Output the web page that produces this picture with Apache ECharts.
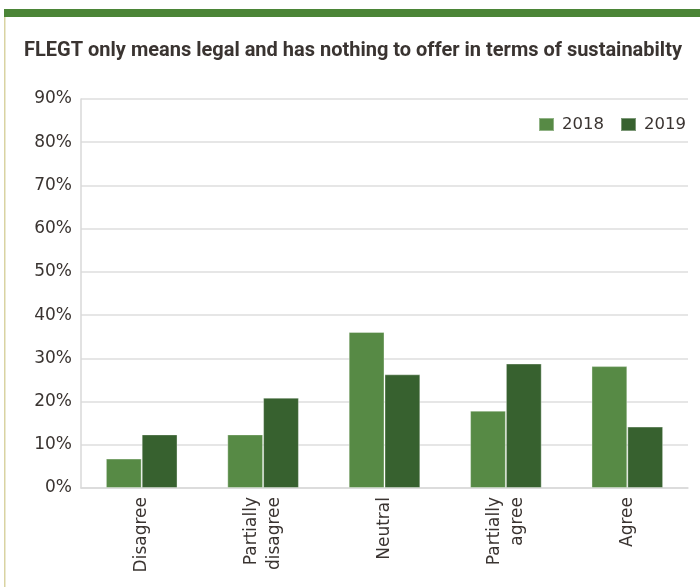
<!DOCTYPE html>
<html>
<head>
<meta charset="utf-8">
<style>html,body{margin:0;padding:0;background:#fff;}#c{width:700px;height:587px;}</style>
<script src="https://cdn.jsdelivr.net/npm/echarts@6/dist/echarts.min.js"></script>
</head>
<body>
<div id="c"></div>
<script>
var categories = ['Disagree', 'Partially\ndisagree', 'Neutral', 'Partially\nagree', 'Agree'];
var values2018 = [6.8, 12.4, 36.1, 17.9, 28.2];
var values2019 = [12.4, 20.9, 26.3, 28.8, 14.2];
var yTicks = [0, 10, 20, 30, 40, 50, 60, 70, 80, 90];
var titleText = 'FLEGT only means legal and has nothing to offer in terms of sustainabilty';

var chart = echarts.init(document.getElementById('c'), null, {renderer: 'canvas'});
var font = 'DejaVu Sans';
chart.setOption({
  animation: false,
  backgroundColor: '#fff',
  graphic: [
    {type: 'rect', shape: {x: 4, y: 9, width: 696, height: 8}, style: {fill: '#4b8537'}},
    {type: 'rect', shape: {x: 4, y: 17, width: 1.5, height: 570}, style: {fill: '#d9d3a2'}}
  ],
  title: {
    text: titleText, left: 24, top: 41, padding: 0,
    textStyle: {fontFamily: 'Roboto', fontWeight: 'bold', fontSize: 20, color: '#3a3431'}
  },
  legend: {
    right: 14, top: 116, itemWidth: 15, itemHeight: 13, itemGap: 16, padding: 0,
    icon: 'rect',
    textStyle: {fontFamily: font, fontSize: 16.5, color: '#3a3431', padding: [0, 0, 0, 3]},
    data: ['2018', '2019']
  },
  grid: {left: 81, right: 12, top: 99, bottom: 99, containLabel: false},
  xAxis: {
    type: 'category', data: categories,
    axisLine: {lineStyle: {color: '#d9d9d9', width: 1.5}},
    axisTick: {inside: true, length: 6, lineStyle: {color: '#d9d9d9'}},
    axisLabel: {rotate: 90, margin: 9, fontFamily: font, fontSize: 17, color: '#3a3431', lineHeight: 23}
  },
  yAxis: {
    type: 'value', min: yTicks[0], max: yTicks[yTicks.length - 1], interval: 10,
    axisLine: {show: true, lineStyle: {color: '#d9d9d9', width: 1.5}},
    axisTick: {show: false},
    splitLine: {lineStyle: {color: '#dedede', width: 1.5}},
    axisLabel: {margin: 9, fontFamily: font, fontSize: 17, color: '#3a3431', formatter: '{value}%'}
  },
  series: [
    {name: '2018', type: 'bar', data: values2018, barGap: '0%', barCategoryGap: '41%',
      itemStyle: {color: '#578a45', borderColor: 'rgba(255,255,255,0.35)', borderWidth: 1}},
    {name: '2019', type: 'bar', data: values2019,
      itemStyle: {color: '#37612f', borderColor: 'rgba(255,255,255,0.35)', borderWidth: 1}}
  ]
});
</script>
</body>
</html>
